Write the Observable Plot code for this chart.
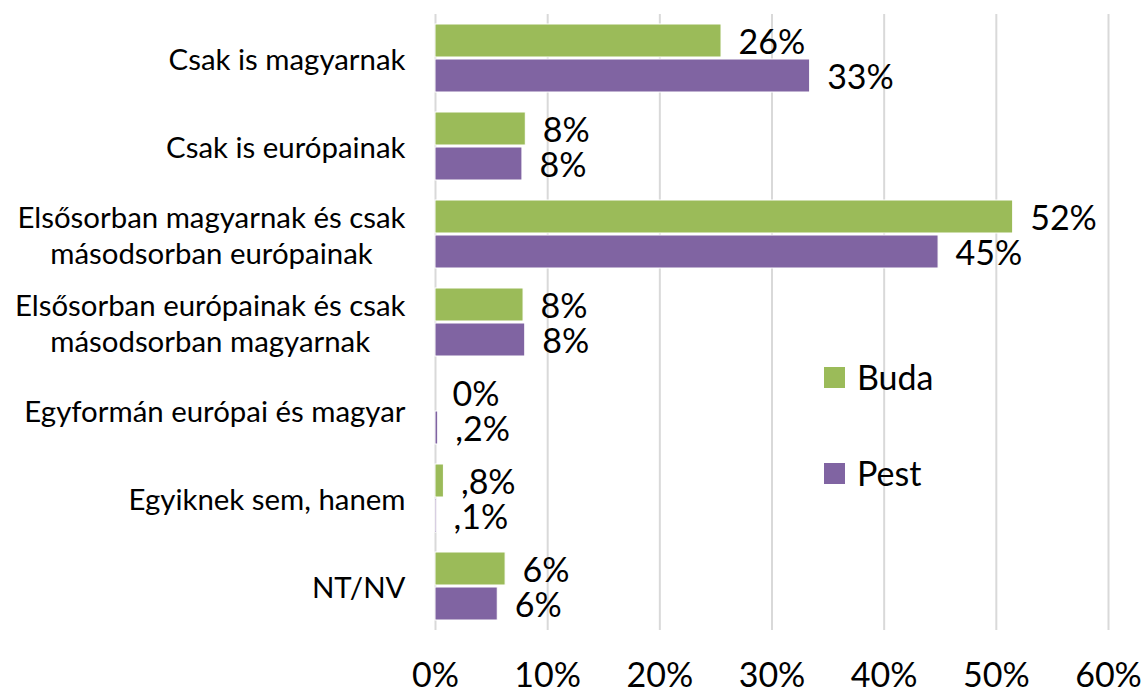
<!DOCTYPE html>
<html>
<head>
<meta charset="utf-8">
<script src="https://cdn.jsdelivr.net/npm/d3@7"></script>
<script src="https://cdn.jsdelivr.net/npm/@observablehq/plot@0.6"></script>
<style>
  html, body { margin: 0; padding: 0; background: #fff; }
  #wrap { position: relative; width: 1145px; height: 693px; overflow: hidden; font-family: Lato, "Open Sans", sans-serif; }
  .legend { position: absolute; left: 824px; font-size: 34px; color: #000; display: flex; align-items: center; line-height: 1; }
  .legend .sw { width: 21px; height: 21px; margin-right: 12px; }
</style>
</head>
<body>
<div id="wrap"></div>
<script>
const categories = [
  "Csak is magyarnak",
  "Csak is európainak",
  "Elsősorban magyarnak és csak\nmásodsorban európainak",
  "Elsősorban európainak és csak\nmásodsorban magyarnak",
  "Egyformán európai és magyar",
  "Egyiknek sem, hanem",
  "NT/NV"
];
const seriesNames = ["Buda", "Pest"];
const budaValues = [25.5, 8.05, 51.5, 7.85, 0, 0.75, 6.25];
const pestValues = [33.4, 7.75, 44.85, 8.0, 0.24, 0.1, 5.55];
const budaLabels = ["26%", "8%", "52%", "8%", "0%", ",8%", "6%"];
const pestLabels = ["33%", "8%", "45%", "8%", ",2%", ",1%", "6%"];
const xTicks = [0, 10, 20, 30, 40, 50, 60];
const colors = ["#9BBB59", "#8064A2"];

const data = [];
categories.forEach((c, i) => {
  data.push({category: c, series: "Buda", value: budaValues[i], label: budaLabels[i]});
  data.push({category: c, series: "Pest", value: pestValues[i], label: pestLabels[i]});
});

const chart = Plot.plot({
  width: 1145,
  height: 693,
  marginLeft: 435,
  marginRight: 37,
  marginTop: 12,
  marginBottom: 62,
  style: {fontFamily: "Lato, 'Open Sans', sans-serif", background: "#fff", color: "#000"},
  x: {domain: [0, 60], axis: null},
  y: {domain: seriesNames, paddingInner: 0.07, paddingOuter: 0.264, axis: null},
  fy: {domain: categories, padding: 0, axis: null},
  color: {domain: seriesNames, range: colors},
  marks: [
    Plot.gridX(xTicks, {stroke: "#d9d9d9", strokeOpacity: 1, strokeWidth: 2}),
    Plot.barX(data, {x: "value", y: "series", fy: "category", fill: "series", stroke: "#fff", strokeWidth: 1}),
    Plot.text(data, {x: "value", y: "series", fy: "category", text: "label", textAnchor: "start", dx: 17, dy: 2, fontSize: 34, fill: "#000"}),
    Plot.axisFy({anchor: "left", tickSize: 0, tickPadding: 30, fontSize: 29.4, label: null, lineHeight: 1.22}),
    Plot.axisX(xTicks, {tickSize: 0, tickPadding: 32, fontSize: 34, label: null, tickFormat: d => d + "%"})
  ]
});

const wrap = document.getElementById("wrap");
wrap.appendChild(chart);

// center each line of multi-line category labels (as in the reference)
chart.querySelectorAll('g[aria-label="fy-axis tick label"] text').forEach(t => {
  const spans = t.querySelectorAll("tspan");
  if (spans.length > 1) {
    const w = t.getBBox().width;
    t.setAttribute("text-anchor", "middle");
    spans.forEach(s => {
      const x0 = parseFloat(s.getAttribute("x") || 0);
      s.setAttribute("x", x0 - w / 2);
    });
  }
});

// legend (inside plot area, as in the reference)
const legendTops = [360, 456];
seriesNames.forEach((name, i) => {
  const d = document.createElement("div");
  d.className = "legend";
  d.style.top = legendTops[i] + "px";
  d.innerHTML = `<span class="sw" style="background:${colors[i]}"></span><span>${name}</span>`;
  wrap.appendChild(d);
});
</script>
</body>
</html>
